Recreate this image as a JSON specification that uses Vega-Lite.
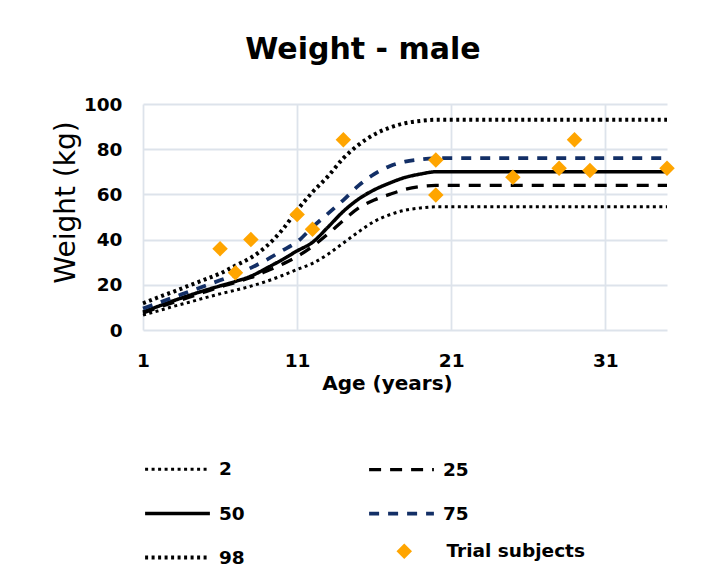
{
  "$schema": "https://vega.github.io/schema/vega-lite/v6.json",
  "width": 524,
  "height": 226,
  "autosize": "none",
  "padding": {"left": 143, "top": 104, "right": 36, "bottom": 250},
  "background": "white",
  "config": {
    "font": "DejaVu Sans",
    "view": {"stroke": null},
    "axis": {
      "grid": true,
      "gridColor": "#dde3eb",
      "gridWidth": 1.8,
      "domain": false,
      "ticks": false,
      "tickSize": 0,
      "labelFontSize": 18.5,
      "labelFontWeight": "bold",
      "labelColor": "#000000",
      "titleColor": "#000000"
    },
    "legend": {
      "labelFontSize": 18.5,
      "labelFontWeight": "bold",
      "labelColor": "#000000",
      "padding": 0
    }
  },
  "title": {
    "text": "Weight - male",
    "fontSize": 30,
    "fontWeight": "bold",
    "color": "#000000",
    "anchor": "middle",
    "frame": "group",
    "dx": -42,
    "baseline": "alphabetic",
    "offset": 6
  },
  "datasets": {
    "curves": [
      {"age": 1, "w": 6.6, "p": "2"}, {"age": 2, "w": 8.5, "p": "2"}, {"age": 3, "w": 10.5, "p": "2"}, {"age": 4, "w": 12.3, "p": "2"}, {"age": 5, "w": 14.2, "p": "2"}, {"age": 6, "w": 16, "p": "2"}, {"age": 7, "w": 17.6, "p": "2"}, {"age": 8, "w": 19.4, "p": "2"}, {"age": 9, "w": 21.5, "p": "2"}, {"age": 10, "w": 24, "p": "2"}, {"age": 11, "w": 26.8, "p": "2"}, {"age": 12, "w": 29.5, "p": "2"}, {"age": 13, "w": 33.5, "p": "2"}, {"age": 14, "w": 38.5, "p": "2"}, {"age": 15, "w": 43.5, "p": "2"}, {"age": 16, "w": 48, "p": "2"}, {"age": 17, "w": 51, "p": "2"}, {"age": 18, "w": 53, "p": "2"}, {"age": 19, "w": 54, "p": "2"}, {"age": 20, "w": 54.5, "p": "2"}, {"age": 35, "w": 54.5, "p": "2"},
      {"age": 1, "w": 7.5, "p": "25"}, {"age": 2, "w": 10, "p": "25"}, {"age": 3, "w": 12.3, "p": "25"}, {"age": 4, "w": 14.5, "p": "25"}, {"age": 5, "w": 16.8, "p": "25"}, {"age": 6, "w": 19, "p": "25"}, {"age": 7, "w": 21, "p": "25"}, {"age": 8, "w": 23.2, "p": "25"}, {"age": 9, "w": 26, "p": "25"}, {"age": 10, "w": 29, "p": "25"}, {"age": 11, "w": 32.5, "p": "25"}, {"age": 12, "w": 37, "p": "25"}, {"age": 13, "w": 42.5, "p": "25"}, {"age": 14, "w": 48.5, "p": "25"}, {"age": 15, "w": 54, "p": "25"}, {"age": 16, "w": 57.5, "p": "25"}, {"age": 17, "w": 60, "p": "25"}, {"age": 18, "w": 62.2, "p": "25"}, {"age": 19, "w": 63.5, "p": "25"}, {"age": 20, "w": 64, "p": "25"}, {"age": 35, "w": 64, "p": "25"},
      {"age": 1, "w": 8, "p": "50"}, {"age": 2, "w": 10.5, "p": "50"}, {"age": 3, "w": 13, "p": "50"}, {"age": 4, "w": 15.3, "p": "50"}, {"age": 5, "w": 17.5, "p": "50"}, {"age": 6, "w": 19.5, "p": "50"}, {"age": 7, "w": 21.5, "p": "50"}, {"age": 8, "w": 23.8, "p": "50"}, {"age": 9, "w": 27.3, "p": "50"}, {"age": 10, "w": 31, "p": "50"}, {"age": 11, "w": 35, "p": "50"}, {"age": 12, "w": 38.8, "p": "50"}, {"age": 13, "w": 45.5, "p": "50"}, {"age": 14, "w": 52.5, "p": "50"}, {"age": 15, "w": 58, "p": "50"}, {"age": 16, "w": 62, "p": "50"}, {"age": 17, "w": 65, "p": "50"}, {"age": 18, "w": 67.5, "p": "50"}, {"age": 19, "w": 69, "p": "50"}, {"age": 20, "w": 70, "p": "50"}, {"age": 35, "w": 70, "p": "50"},
      {"age": 1, "w": 9.5, "p": "75"}, {"age": 2, "w": 12, "p": "75"}, {"age": 3, "w": 14.5, "p": "75"}, {"age": 4, "w": 17, "p": "75"}, {"age": 5, "w": 19.5, "p": "75"}, {"age": 6, "w": 22, "p": "75"}, {"age": 7, "w": 24.5, "p": "75"}, {"age": 8, "w": 27.5, "p": "75"}, {"age": 9, "w": 31, "p": "75"}, {"age": 10, "w": 35, "p": "75"}, {"age": 11, "w": 39, "p": "75"}, {"age": 12, "w": 45.5, "p": "75"}, {"age": 13, "w": 51.5, "p": "75"}, {"age": 14, "w": 57.5, "p": "75"}, {"age": 15, "w": 64, "p": "75"}, {"age": 16, "w": 69, "p": "75"}, {"age": 17, "w": 72.5, "p": "75"}, {"age": 18, "w": 74.5, "p": "75"}, {"age": 19, "w": 75.5, "p": "75"}, {"age": 20, "w": 76, "p": "75"}, {"age": 35, "w": 76, "p": "75"},
      {"age": 1, "w": 11.8, "p": "98"}, {"age": 2, "w": 14.5, "p": "98"}, {"age": 3, "w": 17, "p": "98"}, {"age": 4, "w": 19.7, "p": "98"}, {"age": 5, "w": 22.3, "p": "98"}, {"age": 6, "w": 25, "p": "98"}, {"age": 7, "w": 28.5, "p": "98"}, {"age": 8, "w": 32, "p": "98"}, {"age": 9, "w": 37, "p": "98"}, {"age": 10, "w": 44, "p": "98"}, {"age": 11, "w": 53, "p": "98"}, {"age": 12, "w": 61, "p": "98"}, {"age": 13, "w": 68, "p": "98"}, {"age": 14, "w": 76, "p": "98"}, {"age": 15, "w": 82, "p": "98"}, {"age": 16, "w": 86.5, "p": "98"}, {"age": 17, "w": 89.5, "p": "98"}, {"age": 18, "w": 91.5, "p": "98"}, {"age": 19, "w": 92.5, "p": "98"}, {"age": 20, "w": 93, "p": "98"}, {"age": 35, "w": 93, "p": "98"}
    ],
    "subjects": [
      {"age": 6, "w": 36, "kind": "Trial subjects"},
      {"age": 7, "w": 25.3, "kind": "Trial subjects"},
      {"age": 8, "w": 40, "kind": "Trial subjects"},
      {"age": 11, "w": 51.1, "kind": "Trial subjects"},
      {"age": 12, "w": 44.6, "kind": "Trial subjects"},
      {"age": 14, "w": 84.2, "kind": "Trial subjects"},
      {"age": 20, "w": 75.2, "kind": "Trial subjects"},
      {"age": 20, "w": 59.7, "kind": "Trial subjects"},
      {"age": 25, "w": 67.6, "kind": "Trial subjects"},
      {"age": 28, "w": 71.6, "kind": "Trial subjects"},
      {"age": 29, "w": 84.2, "kind": "Trial subjects"},
      {"age": 30, "w": 70.6, "kind": "Trial subjects"},
      {"age": 35, "w": 71.6, "kind": "Trial subjects"}
    ]
  },
  "encoding": {
    "x": {
      "field": "age",
      "type": "quantitative",
      "scale": {"domain": [1, 35], "nice": false, "zero": false},
      "axis": {
        "values": [1, 11, 21, 31],
        "title": "Age (years)",
        "titleFontSize": 20,
        "titleFontWeight": "bold",
        "titleX": 244,
        "titleY": 59,
        "titleBaseline": "alphabetic",
        "labelPadding": 21,
        "labelFlush": false
      }
    },
    "y": {
      "field": "w",
      "type": "quantitative",
      "scale": {"domain": [0, 100], "nice": false},
      "axis": {
        "values": [0, 20, 40, 60, 80, 100],
        "title": "Weight (kg)",
        "titleFontSize": 28,
        "titleFontWeight": "normal",
        "titleX": -69,
        "titleY": 98,
        "titleBaseline": "alphabetic",
        "labelPadding": 21
      }
    }
  },
  "layer": [
    {
      "data": {"name": "curves"},
      "mark": {"type": "line", "interpolate": "monotone"},
      "encoding": {
        "color": {
          "field": "p",
          "type": "nominal",
          "scale": {"domain": ["2", "25", "50", "75", "98"], "range": ["#000000", "#000000", "#000000", "#132f66", "#000000"]},
          "legend": {
            "title": null,
            "orient": "none",
            "direction": "horizontal",
            "legendX": 0,
            "legendY": 331,
            "columns": 2,
            "columnPadding": 116,
            "rowPadding": -27,
            "symbolSize": 4200,
            "labelOffset": 7
          }
        },
        "strokeDash": {
          "field": "p",
          "type": "nominal",
          "scale": {"domain": ["2", "25", "50", "75", "98"], "range": [[3, 3.5], [12, 9], [1, 0], [10, 9], [3, 3.5]]}
        },
        "strokeWidth": {
          "field": "p",
          "type": "ordinal",
          "scale": {"domain": ["2", "25", "50", "75", "98"], "range": [3, 4, 4, 3.5, 3]}
        }
      }
    },
    {
      "data": {"name": "subjects"},
      "mark": {"type": "point", "filled": true, "opacity": 1, "color": "#ffa500", "size": 240},
      "encoding": {
        "shape": {
          "field": "kind",
          "type": "nominal",
          "scale": {"domain": ["Trial subjects"], "range": ["diamond"]},
          "legend": {
            "title": null,
            "orient": "none",
            "legendX": 252,
            "legendY": 438,
            "symbolSize": 240,
            "symbolFillColor": "#ffa500",
            "symbolStrokeColor": "#ffa500",
            "labelOffset": 33
          }
        }
      }
    }
  ]
}
